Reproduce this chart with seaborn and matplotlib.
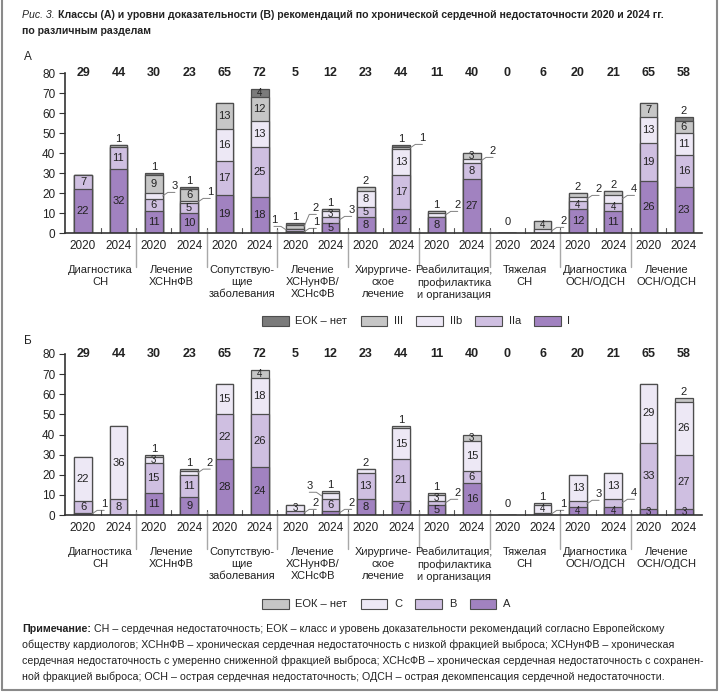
import numpy as np
import pandas as pd
import matplotlib
matplotlib.use('Agg')
import matplotlib.pyplot as plt
import matplotlib.transforms as mtransforms
from matplotlib.patches import Patch
from matplotlib.lines import Line2D
import seaborn as sns

# --- data ---
sections = ['Диагностика\nСН', 'Лечение\nХСНнФВ', 'Сопутствую-\nщие\nзаболевания',
            'Лечение\nХСНунФВ/\nХСНсФВ', 'Хирургиче-\nское\nлечение',
            'Реабилитация,\nпрофилактика\nи организация', 'Тяжелая\nСН',
            'Диагностика\nОСН/ОДСН', 'Лечение\nОСН/ОДСН']
years = ['2020', '2024']

# panel A: classes of recommendations (2020, 2024 for every section)
class_I = [22, 32, 11, 10, 19, 18, 1, 5, 8, 12, 8, 27, 0, 0, 12, 11, 26, 23]
class_IIa = [7, 11, 6, 5, 17, 25, 1, 3, 5, 17, 0, 8, 0, 0, 4, 4, 19, 16]
class_IIb = [0, 0, 3, 1, 16, 13, 0, 3, 8, 13, 2, 2, 0, 2, 2, 4, 13, 11]
class_III = [0, 1, 9, 6, 13, 12, 2, 1, 2, 1, 1, 3, 0, 4, 2, 2, 7, 6]
class_none = [0, 0, 1, 1, 0, 4, 1, 0, 0, 1, 0, 0, 0, 0, 0, 0, 0, 2]

# panel B: levels of evidence
level_A = [1, 0, 11, 9, 28, 24, 0, 2, 8, 7, 5, 16, 0, 0, 4, 4, 3, 3]
level_B = [6, 8, 15, 11, 22, 26, 2, 6, 13, 21, 2, 6, 0, 1, 3, 4, 33, 27]
level_C = [22, 36, 3, 2, 15, 18, 3, 3, 2, 15, 3, 15, 0, 4, 13, 13, 29, 26]
level_none = [0, 0, 1, 1, 0, 4, 0, 1, 0, 1, 1, 3, 0, 1, 0, 0, 0, 2]

sns.set_theme(style='ticks')
plt.rcParams['font.family'] = ['Liberation Sans', 'DejaVu Sans']

EDGE = '#4d4d4d'
C_DARK = '#a182c0'
C_MID = '#cfbfe1'
C_LIGHT = '#ede8f5'
C_GREY = '#c6c6c6'
C_DGREY = '#7b7b7b'
TXT = '#222222'

W, H = 720, 695
fig = plt.figure(figsize=(W / 100, H / 100), dpi=100)


def px(x, y):
    return x / W, 1 - y / H


def drawStacked(ax, layers, colors):
    ids = [str(i) for i in range(len(layers[0]))]
    cum = np.cumsum(np.array(layers), axis=0)
    for k in range(len(layers) - 1, -1, -1):
        sns.barplot(x=ids, y=cum[k], order=ids, color=colors[k], saturation=1,
                    edgecolor=EDGE, linewidth=0.9, width=0.5, errorbar=None, ax=ax)


def labelSegments(ax, layers):
    vals = np.array(layers)
    for i in range(vals.shape[1]):
        nz = [k for k in range(len(vals)) if vals[k, i] > 0]
        base = 0
        side = 0
        last_in = -10
        for k in nz:
            v = vals[k, i]
            mid = base + v / 2
            if v >= 5 or (v >= 3 and mid - last_in >= 5.5):
                fs = 8 if v > 4 else 7
                ax.text(i, mid, str(v), ha='center', va='center', fontsize=fs, color=TXT)
                last_in = mid
            elif k == nz[-1]:
                ax.text(i, base + v + 0.5, str(v), ha='center', va='bottom', fontsize=8, color=TXT)
            else:
                # small segment: leader line to the side, alternating right / left
                d = 1 if side % 2 == 0 else -1
                ty = mid + 3 + (side // 2) * 4.5
                ax.plot([i + d * 0.25, i + d * 0.40, i + d * 0.60], [mid, ty - 1.2, ty - 1.2],
                        color='#808080', lw=0.7, clip_on=False)
                ax.text(i + d * 0.50, ty - 0.6, str(v), ha='left' if d > 0 else 'right',
                        va='bottom', fontsize=8, color=TXT)
                side += 1
            base += v
        total = int(vals[:, i].sum())
        ax.text(i, 80, str(total), ha='center', va='center', fontsize=9, fontweight='bold',
                color=TXT, clip_on=False)
        if total == 0:
            ax.text(i, 3, '0', ha='center', va='bottom', fontsize=8, color=TXT)


def styleAxes(ax):
    n = 18
    ax.set_xlim(-0.51, 17.51)
    ax.set_ylim(0, 80)
    ax.set_yticks(range(0, 81, 10))
    ax.tick_params(axis='y', labelsize=8.5, length=4, width=0.8, color='#333', pad=3,
                   labelcolor=TXT)
    ax.set_xticks(range(n))
    ax.set_xticklabels(years * len(sections), fontsize=8.5, color=TXT)
    ax.tick_params(axis='x', length=0, pad=5)
    ax.set_xlabel('')
    ax.set_ylabel('')
    sns.despine(ax=ax)
    for s in ['left', 'bottom']:
        ax.spines[s].set_color('#333')
        ax.spines[s].set_linewidth(1.2)
    trans = mtransforms.blended_transform_factory(ax.transData, ax.transAxes)
    for i in range(n - 1):
        x = i + 0.5
        ax.plot([x, x], [0, 0.03], color='#555', lw=0.8, transform=trans, clip_on=False)
        if i % 2 == 1:
            ax.plot([x, x], [0.02, -0.21], color='#a8a8a8', lw=1, transform=trans, clip_on=False)
    for g, name in enumerate(sections):
        ax.annotate(name, xy=(2 * g + 0.5, 0), xycoords=trans, xytext=(0, -23),
                    textcoords='offset points', ha='center', va='top', fontsize=8,
                    linespacing=1.25, color=TXT)


# panel A
axA = fig.add_axes([65 / W, 1 - 233 / H, 637 / W, 160 / H])
layersA = [class_I, class_IIa, class_IIb, class_III, class_none]
drawStacked(axA, layersA, [C_DARK, C_MID, C_LIGHT, C_GREY, C_DGREY])
labelSegments(axA, layersA)
styleAxes(axA)

# panel B
axB = fig.add_axes([65 / W, 1 - 515 / H, 637 / W, 161 / H])
layersB = [level_A, level_B, level_C, level_none]
drawStacked(axB, layersB, [C_DARK, C_MID, C_LIGHT, C_GREY])
labelSegments(axB, layersB)
styleAxes(axB)

# legends
hA = [Patch(facecolor=c, edgecolor=EDGE, lw=0.8, label=l) for c, l in
      zip([C_DGREY, C_GREY, C_LIGHT, C_MID, C_DARK], ['ЕОК – нет', 'III', 'IIb', 'IIa', 'I'])]
fig.legend(handles=hA, loc='center left', bbox_to_anchor=px(252, 321), ncol=5, frameon=False,
           fontsize=8, handlelength=2.4, handleheight=1.0, columnspacing=1.2, handletextpad=0.6)
hB = [Patch(facecolor=c, edgecolor=EDGE, lw=0.8, label=l) for c, l in
      zip([C_GREY, C_LIGHT, C_MID, C_DARK], ['ЕОК – нет', 'С', 'В', 'А'])]
fig.legend(handles=hB, loc='center left', bbox_to_anchor=px(252, 604), ncol=4, frameon=False,
           fontsize=8, handlelength=2.4, handleheight=1.0, columnspacing=1.2, handletextpad=0.6)

# panel letters
fig.text(*px(24, 57), 'А', fontsize=8.5, va='center', color=TXT)
fig.text(*px(24, 341), 'Б', fontsize=8.5, va='center', color=TXT)

# title
renderer = fig.canvas.get_renderer()
t1 = fig.text(*px(22, 15), 'Рис. 3.', fontsize=7.6, style='italic', va='center', color=TXT)
x_end = t1.get_window_extent(renderer).x1 / W
fig.text(x_end + 3 / W, 1 - 15 / H,
         'Классы (А) и уровни доказательности (В) рекомендаций по хронической сердечной '
         'недостаточности 2020 и 2024 гг.', fontsize=7.6, fontweight='bold', va='center', color=TXT)
fig.text(*px(22, 31), 'по различным разделам', fontsize=7.6, fontweight='bold', va='center', color=TXT)

# note
n1 = fig.text(*px(22, 629), 'Примечание:', fontsize=7.7, fontweight='bold', va='center', color=TXT)
x_end = n1.get_window_extent(renderer).x1 / W
fig.text(x_end + 3 / W, 1 - 629 / H,
         'СН – сердечная недостаточность; ЕОК – класс и уровень доказательности рекомендаций '
         'согласно Европейскому', fontsize=7.7, va='center', color=TXT)
note_lines = [
    'обществу кардиологов; ХСНнФВ – хроническая сердечная недостаточность с низкой фракцией выброса; '
    'ХСНунФВ – хроническая',
    'сердечная недостаточность с умеренно сниженной фракцией выброса; ХСНсФВ – хроническая сердечная '
    'недостаточность с сохранен-',
    'ной фракцией выброса; ОСН – острая сердечная недостаточность; ОДСН – острая декомпенсация '
    'сердечной недостаточности.',
]
for j, line in enumerate(note_lines):
    fig.text(*px(22, 645 + 16 * j), line, fontsize=7.7, va='center', color=TXT)

# frame
for xs, ys in [([2, 2], [0, 690]), ([717, 717], [0, 690]), ([2, 717], [690, 690])]:
    fig.add_artist(Line2D([x / W for x in xs], [1 - y / H for y in ys], color='#8a8a8a', lw=1.5))

fig.savefig('out.png', dpi=100)
